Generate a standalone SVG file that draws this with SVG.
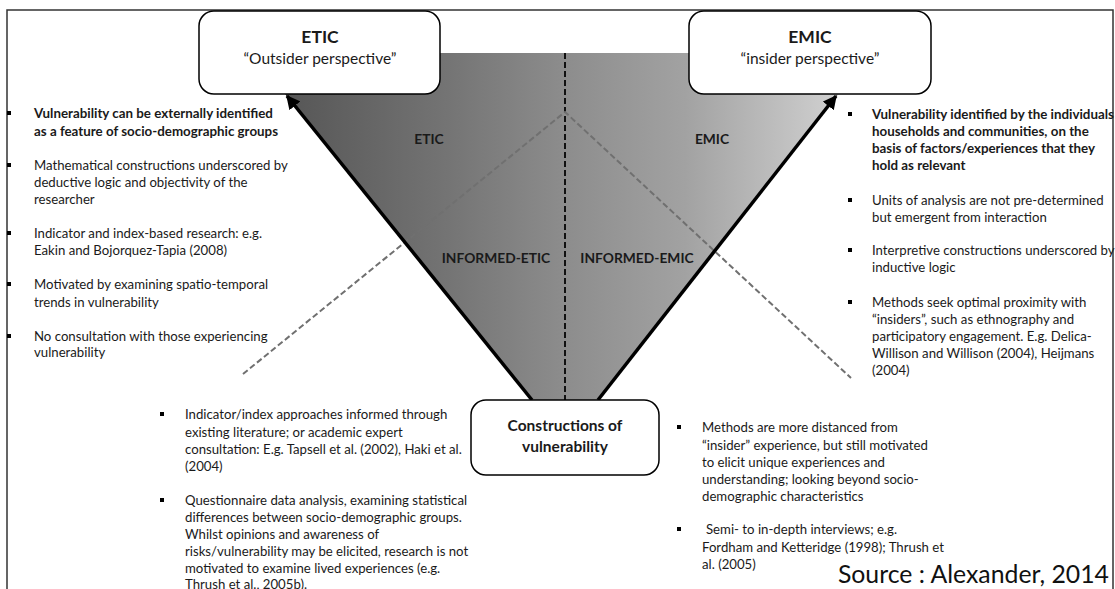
<svg xmlns="http://www.w3.org/2000/svg" width="1115" height="589" viewBox="0 0 1115 589">
<defs>
<linearGradient id="g" gradientUnits="userSpaceOnUse" x1="252" y1="0" x2="871" y2="0">
<stop offset="0" stop-color="#505050"/>
<stop offset="0.3" stop-color="#727272"/>
<stop offset="0.5" stop-color="#8c8c8c"/>
<stop offset="0.7" stop-color="#a2a2a2"/>
<stop offset="1" stop-color="#dadada"/>
</linearGradient>
<marker id="ah" viewBox="0 0 10 10" refX="9" refY="5" markerWidth="4" markerHeight="4" orient="auto" markerUnits="strokeWidth">
<path d="M0,0 L10,5 L0,10 z" fill="#000"/>
</marker>
<style>
text{font-family:Lato,"Liberation Sans",sans-serif;fill:#1a1a1a}
.b{font-size:13.2px}
.bb{font-size:13.35px;font-weight:bold}
.lab{font-size:13.8px;font-weight:bold;text-anchor:middle}
.ttl{font-size:17.5px;font-weight:bold;text-anchor:middle}
.sub{font-size:15.5px;text-anchor:middle}
.box{fill:#fff;stroke:#000;stroke-width:1.5}
.dg{stroke:#707070;stroke-width:2;stroke-dasharray:6 3;fill:none}
.dv{stroke:#111;stroke-width:2;stroke-dasharray:6 3;fill:none}
.arr{stroke:#000;stroke-width:3.5;fill:none;marker-end:url(#ah)}
.bu{fill:#000}
</style>
</defs>
<rect x="0" y="0" width="1115" height="589" fill="#fff"/>
<rect x="7" y="10" width="1106" height="600" fill="none" stroke="#333" stroke-width="1.5"/>

<g id="funnel">
<polygon points="252,53 871,53 598,400 532,400" fill="url(#g)"/>
<text class="lab" x="429" y="144">ETIC</text>
<text class="lab" x="712" y="144">EMIC</text>
<text class="lab" x="496" y="263">INFORMED-ETIC</text>
<text class="lab" x="637" y="263">INFORMED-EMIC</text>
</g>

<g id="connectors">
<line class="dv" x1="565" y1="53" x2="565" y2="400"/>
<polyline class="dg" points="243,374 565,112 851,378"/>
<line class="arr" x1="532" y1="400" x2="287" y2="96"/>
<line class="arr" x1="598" y1="400" x2="836" y2="96"/>
</g>

<g id="etic">
<rect class="box" x="199" y="11" width="241" height="83" rx="15"/>
<text class="ttl" x="320" y="43">ETIC</text>
<text class="sub" x="320" y="64">“Outsider perspective”</text>
</g>

<g id="emic">
<rect class="box" x="689" y="11" width="242" height="83" rx="15"/>
<text class="ttl" x="810" y="43">EMIC</text>
<text class="sub" x="810" y="64">“insider perspective”</text>
</g>

<g id="constructions">
<rect class="box" x="471" y="400" width="188" height="75" rx="15"/>
<text class="ttl" x="565" y="431" style="font-size:15.5px">Constructions of</text>
<text class="ttl" x="565" y="452" style="font-size:15.5px">vulnerability</text>
</g>

<g id="etic-notes">
<rect class="bu" x="7" y="111" width="4" height="4"/>
<rect class="bu" x="7" y="163" width="4" height="4"/>
<rect class="bu" x="7" y="231" width="4" height="4"/>
<rect class="bu" x="7" y="282" width="4" height="4"/>
<rect class="bu" x="7" y="334" width="4" height="4"/>
<text class="bb" x="34" y="118">Vulnerability can be externally identified</text>
<text class="bb" x="34" y="136">as a feature of socio-demographic groups</text>
<text class="b" x="34" y="170">Mathematical constructions underscored by</text>
<text class="b" x="34" y="187">deductive logic and objectivity of the</text>
<text class="b" x="34" y="204">researcher</text>
<text class="b" x="34" y="238">Indicator and index-based research: e.g.</text>
<text class="b" x="34" y="255">Eakin and Bojorquez-Tapia (2008)</text>
<text class="b" x="34" y="289">Motivated by examining spatio-temporal</text>
<text class="b" x="34" y="307">trends in vulnerability</text>
<text class="b" x="34" y="341">No consultation with those experiencing</text>
<text class="b" x="34" y="357">vulnerability</text>
</g>

<g id="emic-notes">
<rect class="bu" x="848" y="112" width="4" height="4"/>
<rect class="bu" x="848" y="198" width="4" height="4"/>
<rect class="bu" x="848" y="248" width="4" height="4"/>
<rect class="bu" x="848" y="300" width="4" height="4"/>
<text class="bb" x="872" y="119">Vulnerability identified by the individuals</text>
<text class="bb" x="872" y="136">households and communities, on the</text>
<text class="bb" x="872" y="153">basis of factors/experiences that they</text>
<text class="bb" x="872" y="170">hold as relevant</text>
<text class="b" x="872" y="205">Units of analysis are not pre-determined</text>
<text class="b" x="872" y="222">but emergent from interaction</text>
<text class="b" x="872" y="255">Interpretive constructions underscored by</text>
<text class="b" x="872" y="272">inductive logic</text>
<text class="b" x="872" y="307">Methods seek optimal proximity with</text>
<text class="b" x="872" y="324">“insiders”, such as ethnography and</text>
<text class="b" x="872" y="341">participatory engagement. E.g. Delica-</text>
<text class="b" x="872" y="358">Willison and Willison (2004), Heijmans</text>
<text class="b" x="872" y="375">(2004)</text>
</g>

<g id="informed-etic-notes">
<rect class="bu" x="160" y="412" width="4" height="4"/>
<rect class="bu" x="160" y="498" width="4" height="4"/>
<text class="b" x="185" y="419">Indicator/index approaches informed through</text>
<text class="b" x="185" y="437">existing literature; or academic expert</text>
<text class="b" x="185" y="454">consultation: E.g. Tapsell et al. (2002), Haki et al.</text>
<text class="b" x="185" y="471">(2004)</text>
<text class="b" x="185" y="505">Questionnaire data analysis, examining statistical</text>
<text class="b" x="185" y="522">differences between socio-demographic groups.</text>
<text class="b" x="185" y="539">Whilst opinions and awareness of</text>
<text class="b" x="185" y="556">risks/vulnerability may be elicited, research is not</text>
<text class="b" x="185" y="573">motivated to examine lived experiences (e.g.</text>
<text class="b" x="185" y="589">Thrush et al., 2005b).</text>
</g>

<g id="informed-emic-notes">
<rect class="bu" x="677" y="425" width="4" height="4"/>
<rect class="bu" x="677" y="527" width="4" height="4"/>
<text class="b" x="702" y="432">Methods are more distanced from</text>
<text class="b" x="702" y="450">“insider” experience, but still motivated</text>
<text class="b" x="702" y="467">to elicit unique experiences and</text>
<text class="b" x="702" y="484">understanding; looking beyond socio-</text>
<text class="b" x="702" y="501">demographic characteristics</text>
<text class="b" x="706" y="534">Semi- to in-depth interviews; e.g.</text>
<text class="b" x="702" y="552">Fordham and Ketteridge (1998); Thrush et</text>
<text class="b" x="702" y="569">al. (2005)</text>
</g>

<g id="source">
<text x="1109" y="583" style="font-size:24.8px;fill:#111;text-anchor:end">Source : Alexander, 2014</text>
</g>
</svg>
